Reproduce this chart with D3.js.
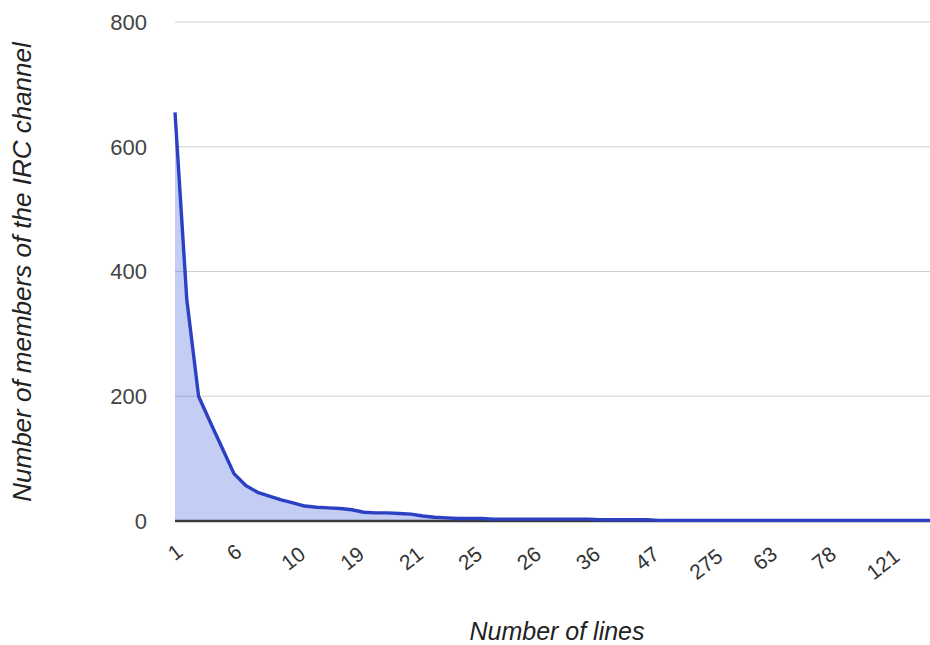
<!DOCTYPE html>
<html>
<head>
<meta charset="utf-8">
<script src="https://cdn.jsdelivr.net/npm/d3@7/dist/d3.min.js"></script>
<style>
  html, body { margin: 0; padding: 0; background: #fff; }
  svg { display: block; font-family: Arial, "Liberation Sans", sans-serif; }
</style>
</head>
<body>
<svg id="chart" width="930" height="645"></svg>
<script>
// Members of the IRC channel, ordered by rank (one point per category)
const members = [655, 355, 200, 158, 117, 76, 57, 46, 40, 34,
                 29, 24, 22, 21, 20, 18, 14, 13, 13, 12,
                 11, 8, 6, 5, 4, 4, 4, 3, 3, 3,
                 3, 3, 3, 3, 3, 3, 2, 2, 2, 2,
                 2, 1, 1, 1, 1, 1, 1, 1, 1, 1,
                 1, 1, 1, 1, 1, 1, 1, 1, 1, 1,
                 1, 1, 1, 1, 1];
// Labels shown on the x axis (every fifth category)
const tickLabels = ["1", "6", "10", "19", "21", "25", "26", "36", "47", "275", "63", "78", "121"];
const labelStep = 5;
const yTicks = [0, 200, 400, 600, 800];
const xTitle = "Number of lines";
const yTitle = "Number of members of the IRC channel";

const svg = d3.select("#chart");
const plotLeft = 175, plotRight = 930, plotTop = 22, plotBottom = 521;

const x = d3.scalePoint()
  .domain(d3.range(members.length))
  .range([plotLeft, plotRight]);
const y = d3.scaleLinear().domain([0, 800]).range([plotBottom, plotTop]);

// gridlines
svg.append("g").selectAll("line")
  .data(yTicks.filter(d => d > 0))
  .join("line")
  .attr("x1", plotLeft).attr("x2", plotRight)
  .attr("y1", d => y(d)).attr("y2", d => y(d))
  .attr("stroke", "#cfcfcf").attr("stroke-width", 1.2);

// y tick labels
svg.append("g").selectAll("text")
  .data(yTicks)
  .join("text")
  .attr("x", 147).attr("y", d => y(d))
  .attr("dy", "0.36em")
  .attr("text-anchor", "end")
  .attr("font-size", 22)
  .attr("fill", "#444")
  .text(d => d);

// area
const area = d3.area()
  .x((d, i) => x(i))
  .y0(y(0))
  .y1(d => y(d));
svg.append("path")
  .datum(members)
  .attr("d", area)
  .attr("fill", "#3d5ad6")
  .attr("fill-opacity", 0.3);

// baseline
svg.append("line")
  .attr("x1", plotLeft).attr("x2", plotRight)
  .attr("y1", y(0)).attr("y2", y(0))
  .attr("stroke", "#3a3a3a").attr("stroke-width", 2.5);

// line
const line = d3.line()
  .x((d, i) => x(i))
  .y(d => y(d));
svg.append("path")
  .datum(members)
  .attr("d", line)
  .attr("fill", "none")
  .attr("stroke", "#2b40c2")
  .attr("stroke-width", 3.4)
  .attr("stroke-linejoin", "round");

// x tick labels (rotated, centred on their tick)
const xTickIdx = tickLabels.map((t, k) => k * labelStep);
svg.append("g").selectAll("text")
  .data(xTickIdx)
  .join("text")
  .attr("transform", (d, k) => `translate(${x(d)},${546 + 6 * tickLabels[k].length}) rotate(-38)`)
  .attr("text-anchor", "middle")
  .attr("dy", "0.36em")
  .attr("font-size", 21)
  .attr("fill", "#333")
  .text((d, k) => tickLabels[k]);

// axis titles
svg.append("text")
  .attr("x", 557).attr("y", 640)
  .attr("text-anchor", "middle")
  .attr("font-size", 25)
  .attr("font-style", "italic")
  .attr("fill", "#222")
  .text(xTitle);

svg.append("text")
  .attr("transform", "translate(31,272) rotate(-90)")
  .attr("text-anchor", "middle")
  .attr("font-size", 26)
  .attr("font-style", "italic")
  .attr("fill", "#222")
  .text(yTitle);
</script>
</body>
</html>
